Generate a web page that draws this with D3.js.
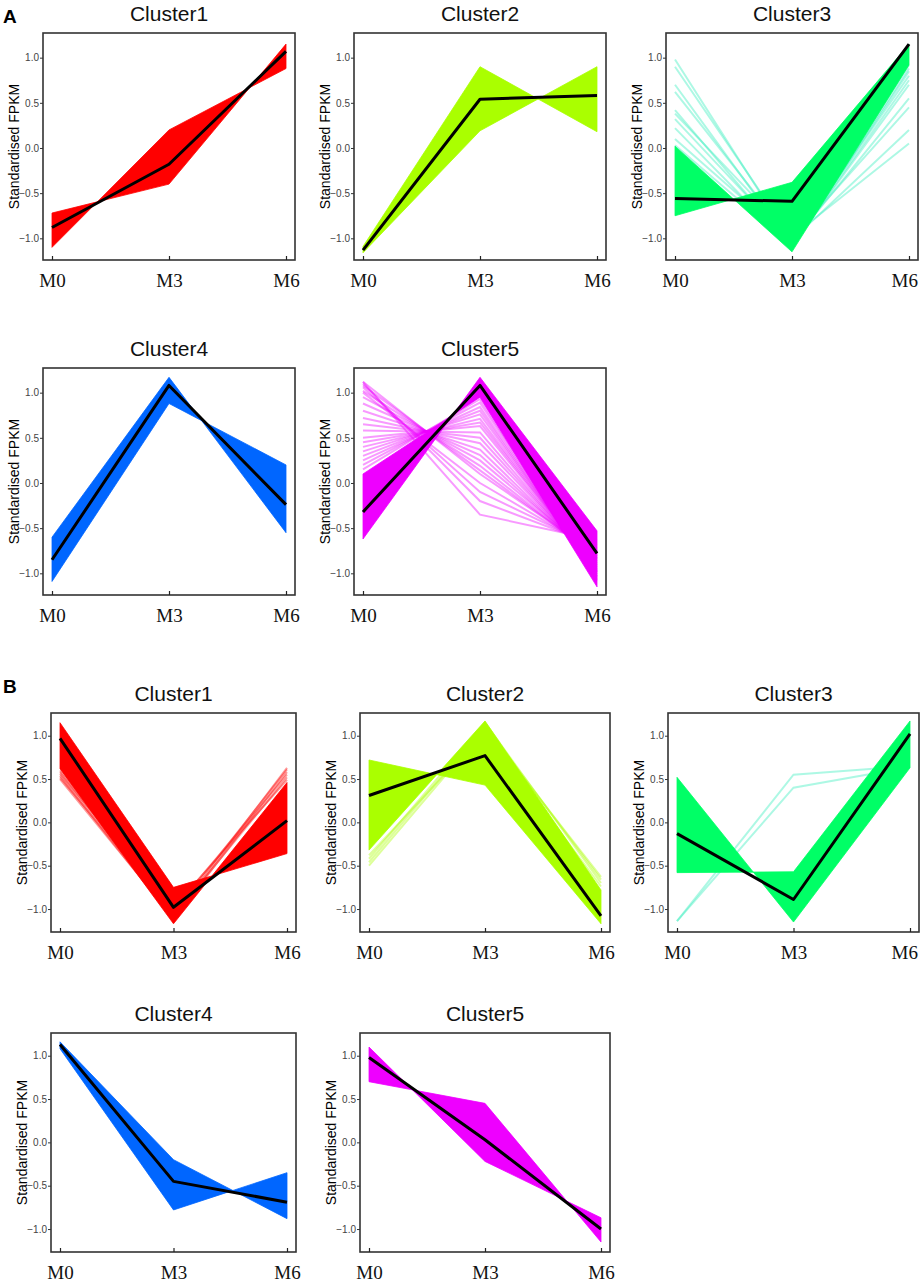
<!DOCTYPE html>
<html>
<head>
<meta charset="utf-8">
<script src="https://cdn.jsdelivr.net/npm/d3@7"></script>
<style>
  body { margin: 0; background: #fff; }
  svg { display: block; }
</style>
</head>
<body>
<svg width="920" height="1283"></svg>
<script>
// time points, ticks and cluster names
var timepoints = ["M0", "M3", "M6"];
var yTicks = [-1.0, -0.5, 0.0, 0.5, 1.0];
var clusterNames = ["Cluster1", "Cluster2", "Cluster3", "Cluster4", "Cluster5"];
var clusterColors = ["#ff0000", "#aaff00", "#00ff66", "#0066ff", "#ee00ff"];
var faintColors = ["#ff0000", "#aaff00", "#33eebb", "#0066ff", "#ee00ff"];

// panel A : mean profile, the two edge profiles of the dense band, faint genes
var aMean = [
  [-0.88, -0.18, 1.07],
  [-1.13, 0.54, 0.58],
  [-0.56, -0.59, 1.15],
  [-0.85, 1.08, -0.24],
  [-0.32, 1.08, -0.78]
];
var aEdge1 = [
  [-1.10, 0.20, 0.88],
  [-1.09, 0.90, 0.18],
  [0.02, -1.15, 0.92],
  [-0.60, 1.17, -0.55],
  [0.10, 0.95, -1.15]
];
var aEdge2 = [
  [-0.72, -0.40, 1.15],
  [-1.16, 0.19, 0.90],
  [-0.75, -0.38, 1.15],
  [-1.09, 0.88, 0.20],
  [-0.62, 1.17, -0.53]
];
var aFaint = [
  [],
  [],
  [[0.98, -1.05, 0.55], [0.90, -1.00, 0.45], [0.70, -1.08, 0.75], [0.62, -1.02, 0.20],
   [0.42, -1.10, 0.88], [0.38, -0.98, 0.05], [0.32, -1.06, 0.80], [0.22, -1.10, 0.85],
   [0.10, -1.04, 0.92], [0.03, -1.08, 0.70]],
  [],
  [[1.12, -0.35, -0.63], [1.10, -0.20, -0.69], [1.06, -0.10, -0.72], [1.00, 0.00, -0.76],
   [1.12, 0.10, -0.79], [1.08, 0.14, -0.81], [1.02, 0.19, -0.83], [0.95, 0.25, -0.84],
   [0.88, 0.31, -0.87], [0.80, 0.37, -0.89], [0.72, 0.44, -0.91], [0.65, 0.50, -0.93],
   [0.58, 0.56, -0.95], [0.50, 0.63, -0.97], [0.45, 0.67, -0.98], [0.40, 0.71, -0.99],
   [0.35, 0.76, -1.01], [0.30, 0.80, -1.03], [0.25, 0.84, -1.04], [0.20, 0.89, -1.06],
   [0.15, 0.93, -1.08]]
];

// panel B
var bMean = [
  [0.97, -0.98, 0.02],
  [0.31, 0.77, -1.08],
  [-0.13, -0.89, 1.02],
  [1.13, -0.45, -0.69],
  [0.98, 0.03, -1.00]
];
var bEdge1 = [
  [1.15, -0.75, -0.36],
  [0.72, 0.43, -1.17],
  [0.52, -1.15, 0.63],
  [1.16, -0.20, -0.88],
  [1.10, -0.22, -0.87]
];
var bEdge2 = [
  [0.62, -1.17, 0.46],
  [-0.32, 1.17, -0.78],
  [-0.58, -0.57, 1.17],
  [1.08, -0.78, -0.35],
  [0.70, 0.45, -1.15]
];
var bFaint = [
  [[0.50, -1.10, 0.63], [0.52, -1.05, 0.61], [0.54, -1.12, 0.58], [0.56, -1.00, 0.55],
   [0.58, -1.08, 0.52], [0.60, -0.98, 0.49]],
  [[-0.50, 1.08, -0.63], [-0.46, 1.12, -0.66], [-0.42, 1.15, -0.70], [-0.38, 1.05, -0.74]],
  [[-1.14, 0.55, 0.65], [-1.14, 0.40, 0.64]],
  [],
  []
];

var svg = d3.select("svg");

// layout of the two figure parts
var sections = [
  { tag: "A", tagY: 23, mean: aMean, e1: aEdge1, e2: aEdge2, faint: aFaint,
    tops: [33, 368], lefts: [43, 354, 666], widths: [252, 252, 252], h: 227,
    domain: [-1.24, 1.273] },
  { tag: "B", tagY: 693, mean: bMean, e1: bEdge1, e2: bEdge2, faint: bFaint,
    tops: [713, 1033], lefts: [51, 360, 668], widths: [245, 250, 251], h: 219,
    domain: [-1.265, 1.262] }
];

sections.forEach(function (sec) {
  svg.append("text")
    .attr("x", 3)
    .attr("y", sec.tagY)
    .attr("font-family", "Liberation Sans, Arial, sans-serif")
    .attr("font-weight", "bold")
    .attr("font-size", "19px")
    .text(sec.tag);

  clusterNames.forEach(function (name, i) {
    var col = i % 3, row = Math.floor(i / 3);
    var left = sec.lefts[col], top = sec.tops[row], w = sec.widths[col], h = sec.h;

    var x = d3.scalePoint().domain(timepoints).range([left + 9, left + w - 9]);
    var y = d3.scaleLinear().domain(sec.domain).range([top + h, top]);
    var g = svg.append("g");

    var line = d3.line()
      .x(function (d, j) { return x(timepoints[j]); })
      .y(function (d) { return y(d); });

    // faint single genes (under the band)
    g.selectAll(".faint")
      .data(sec.faint[i])
      .enter().append("path")
      .attr("class", "faint")
      .attr("d", line)
      .attr("fill", "none")
      .attr("stroke", faintColors[i])
      .attr("stroke-width", 2)
      .attr("stroke-opacity", 0.4);

    // dense band between the two edge profiles
    var area = d3.area()
      .x(function (d, j) { return x(timepoints[j]); })
      .y0(function (d) { return y(d[0]); })
      .y1(function (d) { return y(d[1]); });

    g.append("path")
      .datum(d3.zip(sec.e1[i], sec.e2[i]))
      .attr("d", area)
      .attr("fill", clusterColors[i])
      .attr("stroke", clusterColors[i])
      .attr("stroke-width", 0.8);

    // mean line
    g.append("path")
      .datum(sec.mean[i])
      .attr("d", line)
      .attr("fill", "none")
      .attr("stroke", "#000")
      .attr("stroke-width", 3)
      .attr("stroke-linejoin", "round");

    // frame
    g.append("rect")
      .attr("x", left)
      .attr("y", top)
      .attr("width", w)
      .attr("height", h)
      .attr("fill", "none")
      .attr("stroke", "#333")
      .attr("stroke-width", 1.6);

    // y axis
    var yaxis = g.append("g")
      .attr("transform", "translate(" + left + ",0)")
      .call(d3.axisLeft(y).tickValues(yTicks).tickFormat(d3.format(".1f")).tickSize(3).tickPadding(1));
    yaxis.select(".domain").remove();
    yaxis.selectAll("line").attr("stroke", "#333");
    yaxis.selectAll("text")
      .attr("fill", "#444")
      .attr("font-family", "Liberation Sans, Arial, sans-serif")
      .attr("font-size", "10px");

    // x axis, ticks pointing inward
    var xaxis = g.append("g")
      .attr("transform", "translate(0," + (top + h) + ")")
      .call(d3.axisBottom(x).tickSize(-4).tickPadding(14));
    xaxis.select(".domain").remove();
    xaxis.selectAll("line").attr("stroke", "#222").attr("stroke-width", 1.2);
    xaxis.selectAll("text")
      .attr("fill", "#111")
      .attr("font-family", "Liberation Serif, Times New Roman, serif")
      .attr("font-size", "19px")
      .each(function () {
        // keep the last label inside the page
        var b = this.getBBox();
        var tr = this.parentNode.getAttribute("transform");
        var tx = +tr.replace(/translate\(([^,]+),.*/, "$1");
        var over = tx + b.x + b.width - 918;
        if (over > 0) d3.select(this).attr("x", -over);
      });

    // y title
    g.append("text")
      .attr("transform", "translate(" + (left - 24) + "," + (top + h / 2) + ") rotate(-90)")
      .attr("text-anchor", "middle")
      .attr("font-family", "Liberation Sans, Arial, sans-serif")
      .attr("font-size", "14px")
      .attr("fill", "#000")
      .text("Standardised FPKM");

    // cluster title
    g.append("text")
      .attr("x", left + w / 2)
      .attr("y", top - 12)
      .attr("text-anchor", "middle")
      .attr("font-family", "Liberation Sans, Arial, sans-serif")
      .attr("font-size", "21px")
      .attr("fill", "#111")
      .text(name);
  });
});
</script>
</body>
</html>
